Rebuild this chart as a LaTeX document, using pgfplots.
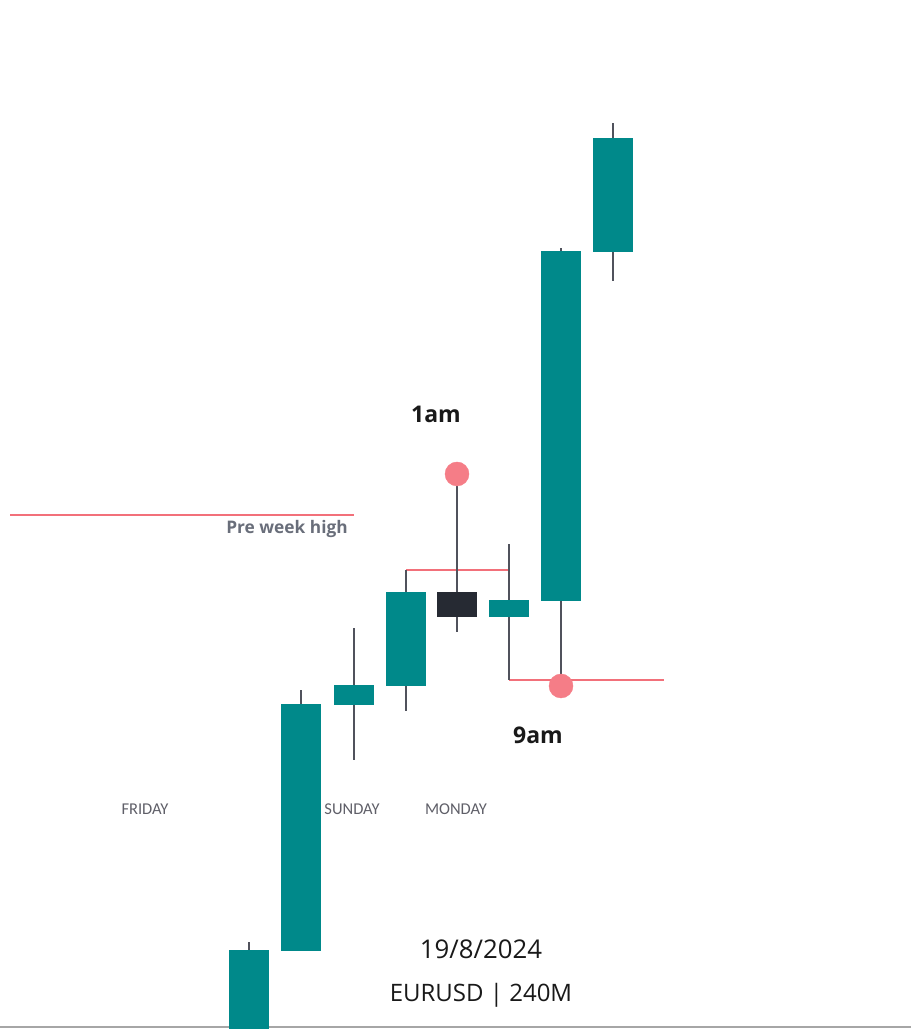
\documentclass[border=0pt]{standalone}
\usepackage{fontspec}
\setmainfont{Open Sans}
\newfontfamily\dayfont{Carlito}
\usepackage{pgfplots}
\pgfplotsset{compat=1.18}
\usepgfplotslibrary{statistics}
\definecolor{tealc}{RGB}{0,137,138}
\definecolor{darkc}{RGB}{38,42,51}
\definecolor{wick}{RGB}{80,82,92}
\definecolor{redl}{RGB}{242,112,122}
\definecolor{redc}{RGB}{245,125,135}
\definecolor{txtgray}{RGB}{105,110,122}
\definecolor{daygray}{RGB}{95,95,104}
\begin{document}
\begin{tikzpicture}
\begin{axis}[
  width=911pt, height=1029pt, scale only axis,
  xmin=0, xmax=911, ymin=0, ymax=1029,
  axis line style={draw=none}, xtick=\empty, ytick=\empty,
  cdl/.style={
    boxplot/draw direction=y,
    boxplot/whisker extend=0,
    boxplot/box extend=39,
    boxplot/every whisker/.style={draw=wick, line width=2pt},
    boxplot/every box/.style={fill=tealc, draw=tealc, line width=0.5pt},
    boxplot/every median/.style={draw=none},
  },
]
% bottom border
\addplot[draw=gray!70, line width=2pt] coordinates {(0,2) (911,2)};
% red level lines
\addplot[redl, line width=2.2pt] coordinates {(10,514) (354,514)};
\addplot[redl, line width=2.2pt] coordinates {(406,459) (509,459)};
\addplot[redl, line width=2.2pt] coordinates {(509,349) (664,349)};
% candles
\addplot[cdl, boxplot prepared={draw position=249, lower whisker=-40, lower quartile=-40, median=-40, upper quartile=79, upper whisker=87}] coordinates {};
\addplot[cdl, boxplot prepared={draw position=301, lower whisker=79, lower quartile=79, median=79, upper quartile=325, upper whisker=339}] coordinates {};
\addplot[cdl, boxplot prepared={draw position=354, lower whisker=269, lower quartile=325, median=325, upper quartile=344, upper whisker=401}] coordinates {};
\addplot[cdl, boxplot prepared={draw position=406, lower whisker=318, lower quartile=344, median=344, upper quartile=437, upper whisker=459}] coordinates {};
\addplot[cdl, boxplot/every box/.style={fill=darkc, draw=darkc}, boxplot prepared={draw position=457, lower whisker=397, lower quartile=413, median=413, upper quartile=437, upper whisker=545}] coordinates {};
\addplot[cdl, boxplot prepared={draw position=509, lower whisker=349, lower quartile=413, median=413, upper quartile=429, upper whisker=485}] coordinates {};
\addplot[cdl, boxplot prepared={draw position=561, lower whisker=344, lower quartile=429, median=429, upper quartile=778, upper whisker=781}] coordinates {};
\addplot[cdl, boxplot prepared={draw position=613, lower whisker=748, lower quartile=778, median=778, upper quartile=891, upper whisker=906}] coordinates {};
% markers
\addplot[only marks, mark=*, mark size=12pt, color=redc, mark options={draw=none, fill=redc}] coordinates {(457,555) (561,343)};
% labels
\node[font=\fontsize{23}{26}\selectfont\bfseries, text=black!90] at (axis cs:436,615) {1am};
\node[font=\fontsize{23}{26}\selectfont\bfseries, text=black!90] at (axis cs:538,294) {9am};
\node[font=\fontsize{17.3}{20}\selectfont\bfseries, text=txtgray] at (axis cs:287,500) {Pre week high};
\node[font=\dayfont\fontsize{16.5}{19}\selectfont, text=daygray] at (axis cs:145,220) {FRIDAY};
\node[font=\dayfont\fontsize{16.5}{19}\selectfont, text=daygray] at (axis cs:352,220) {SUNDAY};
\node[font=\dayfont\fontsize{16.5}{19}\selectfont, text=daygray] at (axis cs:456,220) {MONDAY};
\node[font=\fontsize{25.8}{30}\selectfont, text=black!90] at (axis cs:481,80) {19/8/2024};
\node[font=\fontsize{24}{28}\selectfont, text=black!90] at (axis cs:481,34) {EURUSD | 240M};
\end{axis}
\path (current axis.south west) rectangle (current axis.north east);
\end{tikzpicture}
\end{document}
